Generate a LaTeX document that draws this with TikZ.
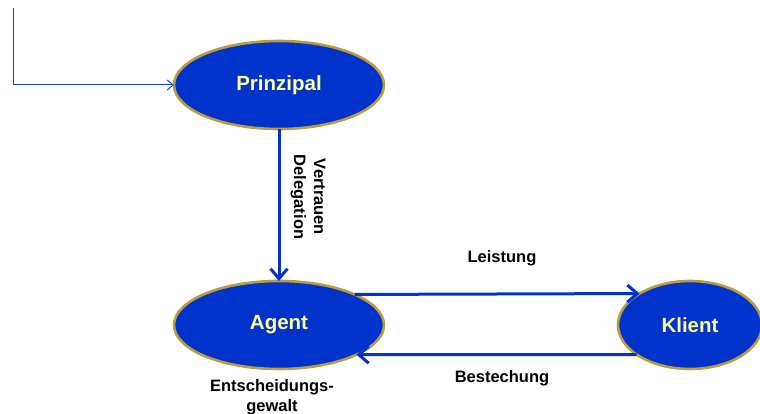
\documentclass[tikz,border=0pt]{standalone}
\usepackage{fontspec}
\setmainfont{Liberation Sans}
\usetikzlibrary{shapes.geometric,arrows.meta}
\definecolor{roleblue}{RGB}{0,51,204}
\definecolor{rolegold}{RGB}{184,158,64}
\definecolor{roletext}{RGB}{255,255,153}
\definecolor{feedblue}{RGB}{30,70,225}
\tikzset{
  role/.style={ellipse, draw=rolegold, line width=2.6pt, fill=roleblue,
    minimum width=210pt, minimum height=88pt, inner sep=0pt, outer sep=0pt,
    text=roletext, font=\fontsize{20.5}{24}\selectfont\bfseries},
  flow/.style={draw=roleblue, line width=3pt,
    -{Straight Barb[length=10pt,width=17pt]}},
  lbl/.style={font=\fontsize{16.5}{20}\selectfont\bfseries, align=center, inner sep=0pt},
  feed/.style={draw=feedblue, line width=1pt,
    -{Straight Barb[length=6pt,width=10pt]}}
}
\begin{document}
\begin{tikzpicture}[x=1pt,y=1pt]
  \useasboundingbox (0,0) rectangle (760,414);

  % roles
  \node[role] (prinzipal) at (279,329) {Prinzipal};
  \node[role] (agent) at (279,89) {Agent};
  \node[role, minimum width=144pt] (klient) at (690,89) {Klient};

  % incoming line from the upper left
  \coordinate (src) at (13,406);
  \draw[feed] (src) |- (prinzipal.west);

  % relations
  \draw[flow] (prinzipal.south) -- (agent.north);
  \draw[flow] (agent.22.59) -- (klient.148.76);
  \draw[flow] (klient.209.67) -- (agent.-21.34);

  % labels
  \node[lbl, rotate=-90] (deleg) at (308,217) {Vertrauen\\Delegation};
  \node[lbl] (leist) at (502,156) {Leistung};
  \node[lbl] (best) at (502,36) {Bestechung};
  \node[lbl] (entsch) at (272,17) {Entscheidungs-\\gewalt};
\end{tikzpicture}
\end{document}
